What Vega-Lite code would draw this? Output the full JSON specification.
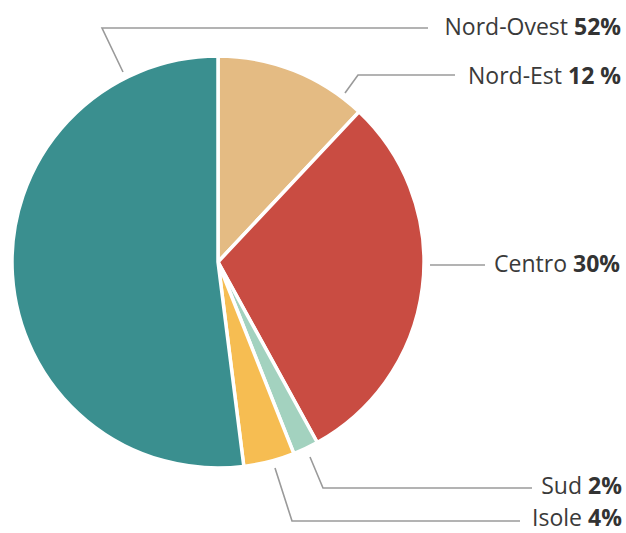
{
  "$schema": "https://vega.github.io/schema/vega-lite/v6.json",
  "width": 626,
  "height": 533,
  "autosize": "none",
  "padding": 0,
  "background": "white",
  "config": {"view": {"stroke": null}},
  "datasets": {
    "slices": [
      {"region": "Nord-Est", "share": 12, "ord": 1, "pctLabel": "12 %", "lx": 562, "ly": 77},
      {"region": "Centro", "share": 30, "ord": 2, "pctLabel": "30%", "lx": 567, "ly": 265},
      {"region": "Sud", "share": 2, "ord": 3, "pctLabel": "2%", "lx": 582, "ly": 487},
      {"region": "Isole", "share": 4, "ord": 4, "pctLabel": "4%", "lx": 582, "ly": 519},
      {"region": "Nord-Ovest", "share": 52, "ord": 5, "pctLabel": "52%", "lx": 568, "ly": 28}
    ],
    "leaders": [
      {"region": "Nord-Ovest", "seq": 1, "px": 123, "py": 72},
      {"region": "Nord-Ovest", "seq": 2, "px": 102, "py": 28},
      {"region": "Nord-Ovest", "seq": 3, "px": 428, "py": 28},
      {"region": "Nord-Est", "seq": 1, "px": 345, "py": 93},
      {"region": "Nord-Est", "seq": 2, "px": 358, "py": 75},
      {"region": "Nord-Est", "seq": 3, "px": 455, "py": 75},
      {"region": "Centro", "seq": 1, "px": 430, "py": 265},
      {"region": "Centro", "seq": 2, "px": 485, "py": 265},
      {"region": "Sud", "seq": 1, "px": 310, "py": 457},
      {"region": "Sud", "seq": 2, "px": 323, "py": 488},
      {"region": "Sud", "seq": 3, "px": 532, "py": 488},
      {"region": "Isole", "seq": 1, "px": 275, "py": 468},
      {"region": "Isole", "seq": 2, "px": 292, "py": 521},
      {"region": "Isole", "seq": 3, "px": 520, "py": 521}
    ]
  },
  "resolve": {"scale": {"x": "shared", "y": "shared"}},
  "layer": [
    {
      "data": {"name": "slices"},
      "mark": {"type": "arc", "outerRadius": 206, "stroke": "white", "strokeWidth": 3.5},
      "encoding": {
        "x": {"datum": 218, "type": "quantitative", "scale": {"domain": [0, 626], "nice": false, "zero": false}, "axis": null},
        "y": {"datum": 262, "type": "quantitative", "scale": {"domain": [0, 533], "nice": false, "zero": false, "reverse": true}, "axis": null},
        "theta": {"field": "share", "type": "quantitative", "stack": true},
        "order": {"field": "ord", "type": "quantitative"},
        "color": {
          "field": "region",
          "type": "nominal",
          "legend": null,
          "scale": {
            "domain": ["Nord-Est", "Centro", "Sud", "Isole", "Nord-Ovest"],
            "range": ["#e4bb83", "#c94c42", "#a3d2bf", "#f6bd52", "#3a8f8f"]
          }
        }
      }
    },
    {
      "data": {"name": "leaders"},
      "mark": {"type": "line", "color": "#9a9a9a", "strokeWidth": 1.6, "interpolate": "linear"},
      "encoding": {
        "x": {"field": "px", "type": "quantitative", "axis": null},
        "y": {"field": "py", "type": "quantitative", "axis": null},
        "detail": {"field": "region", "type": "nominal"},
        "order": {"field": "seq", "type": "quantitative"}
      }
    },
    {
      "data": {"name": "slices"},
      "mark": {"type": "text", "align": "right", "baseline": "middle", "font": "Open Sans", "fontSize": 23, "color": "#3a3a3a"},
      "encoding": {
        "x": {"field": "lx", "type": "quantitative", "axis": null},
        "y": {"field": "ly", "type": "quantitative", "axis": null},
        "text": {"field": "region", "type": "nominal"}
      }
    },
    {
      "data": {"name": "slices"},
      "mark": {"type": "text", "align": "left", "baseline": "middle", "dx": 6, "font": "Open Sans", "fontSize": 23, "fontWeight": "bold", "color": "#333333"},
      "encoding": {
        "x": {"field": "lx", "type": "quantitative", "axis": null},
        "y": {"field": "ly", "type": "quantitative", "axis": null},
        "text": {"field": "pctLabel", "type": "nominal"}
      }
    }
  ]
}
